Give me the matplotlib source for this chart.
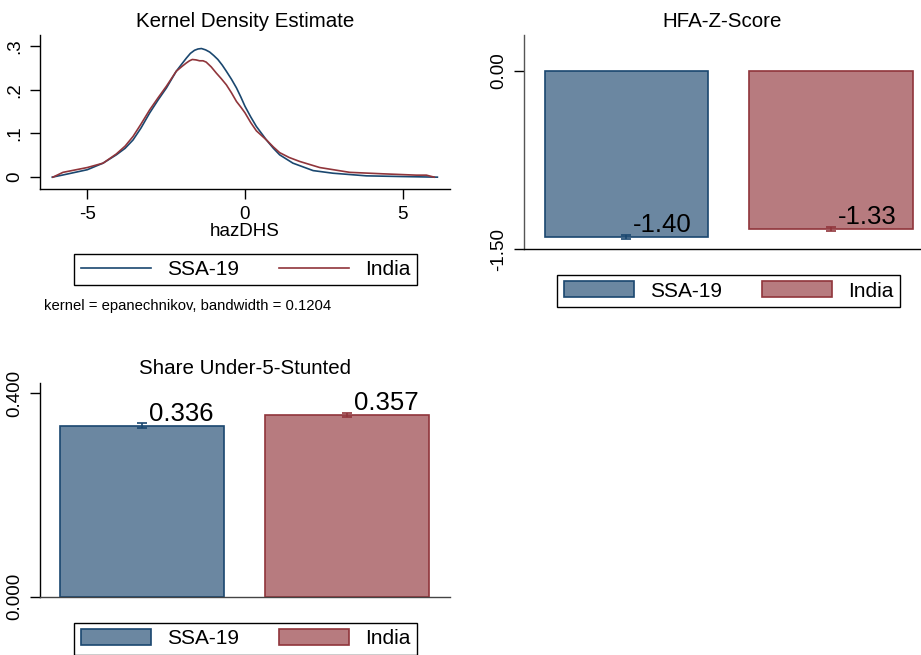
import matplotlib

matplotlib.use("Agg")

import matplotlib.pyplot as plt
from matplotlib.patches import Patch
from matplotlib.lines import Line2D

plt.rcParams["font.family"] = ["Liberation Sans", "DejaVu Sans"]

# kernel density curves
kde_x_ssa = [-6.11, -5.77, -5.0, -4.5, -4.08, -3.8, -3.55, -3.3, -3.02, -2.75, -2.49, -2.18,
             -2.0, -1.86, -1.73, -1.6, -1.49, -1.38, -1.25, -1.12, -0.99, -0.86, -0.72,
             -0.59, -0.43, -0.27, -0.13, 0.0, 0.18, 0.36, 0.68, 0.9, 1.1, 1.52, 2.16, 2.79,
             3.85, 4.9, 6.1]
kde_y_ssa = [0.0, 0.005, 0.017, 0.032, 0.051, 0.066, 0.085, 0.112, 0.147, 0.177, 0.204, 0.242,
             0.259, 0.272, 0.283, 0.290, 0.293, 0.294, 0.291, 0.286, 0.278, 0.269, 0.256,
             0.242, 0.224, 0.204, 0.183, 0.162, 0.138, 0.116, 0.085, 0.066, 0.051, 0.032,
             0.015, 0.009, 0.003, 0.0015, 0.0]
kde_x_india = [-6.09, -5.77, -5.0, -4.5, -4.08, -3.8, -3.55, -3.3, -3.02, -2.75, -2.49, -2.18,
               -2.0, -1.86, -1.76, -1.67, -1.55, -1.44, -1.33, -1.23, -1.07, -0.91, -0.75,
               -0.59, -0.43, -0.27, -0.13, 0.0, 0.18, 0.36, 0.68, 0.9, 1.1, 1.4, 1.73, 2.37,
               3.32, 4.38, 5.43, 5.75, 6.0]
kde_y_india = [0.0, 0.011, 0.022, 0.032, 0.053, 0.071, 0.093, 0.121, 0.154, 0.182, 0.208,
               0.242, 0.253, 0.261, 0.266, 0.269, 0.268, 0.266, 0.266, 0.263, 0.252, 0.238,
               0.225, 0.211, 0.193, 0.173, 0.160, 0.147, 0.125, 0.106, 0.085, 0.069, 0.056,
               0.045, 0.036, 0.022, 0.011, 0.0076, 0.0046, 0.0046, 0.0]

groups = ["SSA-19", "India"]
hfa_mean = [-1.40, -1.33]
hfa_err = [0.015, 0.015]
stunted_mean = [0.336, 0.357]
stunted_err = [0.005, 0.004]

NAVY = "#1a476f"
MAROON = "#90353b"
FILLS = ["#6b87a1", "#b77b7f"]
EDGES = [NAVY, MAROON]

fig = plt.figure(figsize=(9.21, 6.55), dpi=100)

TITLE_FS = 14.8
TICK_FS = 13.5
LEG_FS = 15
LABEL_FS = 18.5


def style_axes(ax):
    for side in ("top", "right"):
        ax.spines[side].set_visible(False)
    ax.spines["left"].set_linewidth(1.0)
    ax.spines["bottom"].set_linewidth(1.0)
    ax.tick_params(axis="both", length=7, width=1.0, labelsize=TICK_FS, pad=5)
    ax.tick_params(axis="y", labelrotation=90)
    for lab in ax.get_yticklabels():
        lab.set_va("center")


def make_legend(handles, center):
    leg = fig.legend(handles=handles, labels=groups, loc="center",
                     bbox_to_anchor=center, ncol=2, fontsize=LEG_FS,
                     frameon=True, fancybox=False, framealpha=1,
                     edgecolor="black", handlelength=3.4, handleheight=0.8,
                     handletextpad=0.75, columnspacing=1.9, borderpad=0.3)
    leg.get_frame().set_linewidth(1.0)
    return leg


# --- kernel density ---
ax1 = fig.add_axes([0.0434, 0.7115, 0.4452, 0.2351])
ax1.plot(kde_x_ssa, kde_y_ssa, color=NAVY, lw=1.2)
ax1.plot(kde_x_india, kde_y_india, color=MAROON, lw=1.2)
ax1.set_xlim(-6.5, 6.5)
ax1.set_ylim(-0.027, 0.325)
ax1.set_xticks([-5, 0, 5])
ax1.set_xticklabels(["-5", "0", "5"])
ax1.set_yticks([0, 0.1, 0.2, 0.3])
ax1.set_yticklabels(["0", ".1", ".2", ".3"])
ax1.set_xlabel("hazDHS", fontsize=13.5, labelpad=0)
ax1.set_title("Kernel Density Estimate", fontsize=TITLE_FS, pad=6)
style_axes(ax1)
make_legend([Line2D([], [], color=c, lw=1.2) for c in EDGES], (0.2666, 0.5885))
fig.text(0.048, 0.527, "kernel = epanechnikov, bandwidth = 0.1204", fontsize=10.7,
         ha="left", va="baseline")


def bar_panel(ax, means, errs, fmt):
    xs = list(range(len(means)))
    for i, (m, e) in enumerate(zip(means, errs)):
        ax.bar(xs[i], m, width=0.8, color=FILLS[i], edgecolor=EDGES[i], linewidth=1.2)
        ax.errorbar(xs[i], m, yerr=e, color=EDGES[i], capsize=3.3, elinewidth=1.2,
                    capthick=1.2)
        ax.annotate(fmt.format(m), (xs[i], m), xytext=(5, 3.5), textcoords="offset points",
                    ha="left", va="baseline", fontsize=LABEL_FS)
    ax.set_xticks([])


# --- HFA z-score ---
ax2 = fig.add_axes([0.5690, 0.6198, 0.4310, 0.3267])
bar_panel(ax2, hfa_mean, hfa_err, "{:.2f}")
ax2.set_xlim(-0.5, 1.44)
ax2.set_ylim(-1.5, 0.3)
ax2.set_yticks([0, -1.5])
ax2.set_yticklabels(["0.00", "-1.50"])
ax2.set_title("HFA-Z-Score", fontsize=TITLE_FS, pad=6)
style_axes(ax2)
ax2.spines["left"].set_color("#555555")
make_legend([Patch(facecolor=FILLS[i], edgecolor=EDGES[i], lw=1.2) for i in range(2)],
            (0.791, 0.5557))

# --- share stunted ---
ax3 = fig.add_axes([0.0434, 0.0890, 0.4452, 0.3267])
bar_panel(ax3, stunted_mean, stunted_err, "{:.3f}")
ax3.set_xlim(-0.5, 1.5)
ax3.set_ylim(0, 0.421)
ax3.set_yticks([0, 0.4])
ax3.set_yticklabels(["0.000", "0.400"])
ax3.set_title("Share Under-5-Stunted", fontsize=TITLE_FS, pad=6)
style_axes(ax3)
ax3.spines["bottom"].set_color("#444444")
make_legend([Patch(facecolor=FILLS[i], edgecolor=EDGES[i], lw=1.2) for i in range(2)],
            (0.2666, 0.0247))

fig.savefig("out.png", dpi=100)
plt.close(fig)
